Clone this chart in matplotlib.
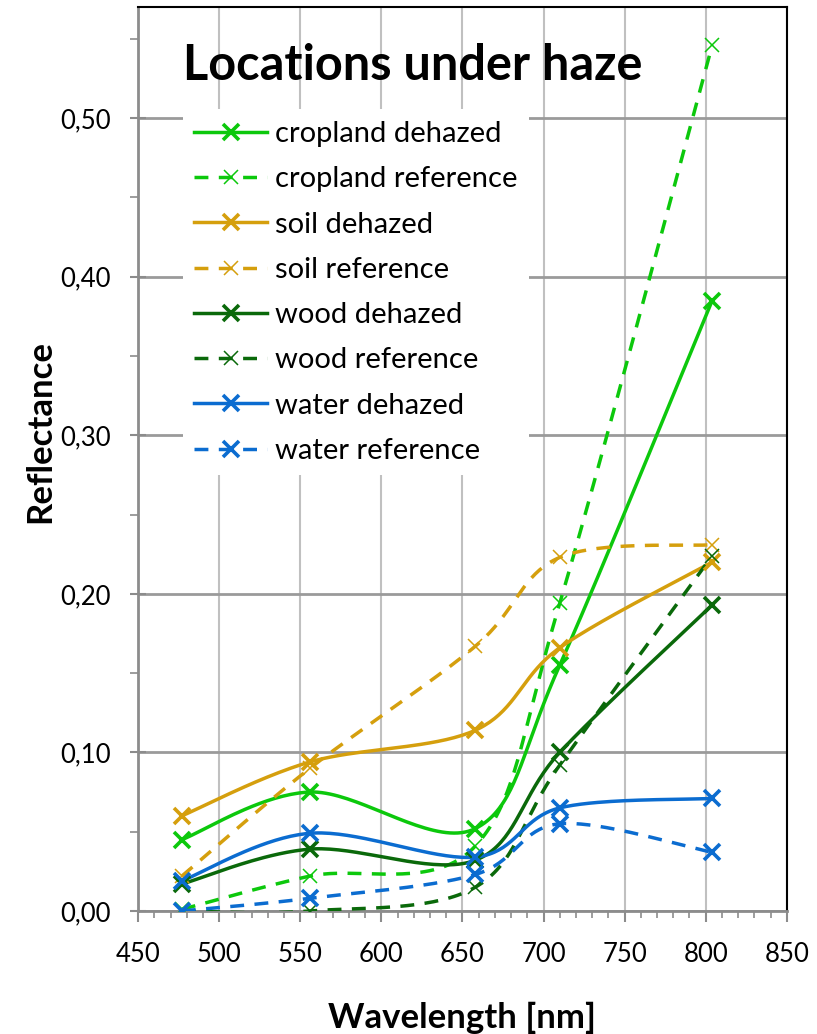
import numpy as np
import matplotlib
matplotlib.use('Agg')
import matplotlib.pyplot as plt
from matplotlib.lines import Line2D
from matplotlib.ticker import MultipleLocator, FuncFormatter

plt.rcParams['font.family'] = ['Lato', 'DejaVu Sans']

# band centres (nm)
wavelength = [477, 556, 658, 710, 804]

# reflectance values
cropland_dehazed = [0.045, 0.075, 0.052, 0.155, 0.385]
cropland_reference = [0.001, 0.022, 0.041, 0.194, 0.546]
soil_dehazed = [0.060, 0.094, 0.114, 0.166, 0.220]
soil_reference = [0.022, 0.090, 0.167, 0.223, 0.231]
wood_dehazed = [0.017, 0.039, 0.032, 0.100, 0.193]
wood_reference = [0.000, 0.000, 0.015, 0.092, 0.224]
water_dehazed = [0.019, 0.049, 0.034, 0.065, 0.071]
water_reference = [0.000, 0.008, 0.023, 0.055, 0.037]

labels = ['cropland dehazed', 'cropland reference', 'soil dehazed', 'soil reference',
          'wood dehazed', 'wood reference', 'water dehazed', 'water reference']
series = [cropland_dehazed, cropland_reference, soil_dehazed, soil_reference,
          wood_dehazed, wood_reference, water_dehazed, water_reference]

green = '#0CC80C'
gold = '#D59F0D'
dkgreen = '#0A690A'
blue = '#0B6CD0'
colors = [green, green, gold, gold, dkgreen, dkgreen, blue, blue]
dashed = [False, True, False, True, False, True, False, True]
thick_marker = [True, False, True, False, True, False, True, True]


# excel style smoothed line (bezier through the points)
def smooth(x, y, n=40):
    pts = np.column_stack([x, y]).astype(float)
    P = np.vstack([pts[0], pts, pts[-1]])
    out = []
    t = np.linspace(0, 1, n)[:, None]
    for i in range(1, len(P) - 2):
        p0, p1, p2, p3 = P[i - 1], P[i], P[i + 1], P[i + 2]
        c1 = p1 + (p2 - p0) / 6
        c2 = p2 - (p3 - p1) / 6
        seg = (1 - t)**3 * p1 + 3 * (1 - t)**2 * t * c1 + 3 * (1 - t) * t**2 * c2 + t**3 * p2
        out.append(seg)
    out = np.vstack(out)
    return out[:, 0], out[:, 1]


fig = plt.figure(figsize=(8.17, 10.34), dpi=100)
ax = fig.add_axes([0.169, 0.119, 0.794, 0.874])

handles = []
for vals, lab, c, d, tm in zip(series, labels, colors, dashed, thick_marker):
    ls = (0, (4, 3)) if d else '-'
    ms = 11 if tm else 10
    mew = 2.6 if tm else 1.1
    sx, sy = smooth(wavelength, vals)
    ax.plot(sx, sy, color=c, lw=2.5, linestyle=ls, zorder=3)
    ax.plot(wavelength, vals, linestyle='none', marker='x', ms=ms, mew=mew, color=c, zorder=4)
    handles.append(Line2D([], [], color=c, lw=2.5, linestyle=ls, marker='x', ms=ms, mew=mew))

ax.set_xlim(450, 850)
ax.set_ylim(0, 0.57)
ax.xaxis.set_major_locator(MultipleLocator(50))
ax.xaxis.set_minor_locator(MultipleLocator(10))
ax.yaxis.set_major_locator(MultipleLocator(0.1))
ax.yaxis.set_minor_locator(MultipleLocator(0.05))
ax.yaxis.set_major_formatter(FuncFormatter(lambda v, p: f'{v:.2f}'.replace('.', ',')))

ax.grid(True, which='major', axis='x', color='#c0c0c0', lw=1.5, zorder=0)
ax.grid(True, which='major', axis='y', color='#9a9a9a', lw=2, zorder=0)
ax.set_axisbelow(True)

ax.tick_params(axis='x', which='major', direction='out', length=8, width=1.5,
               color='#8c8c8c', labelsize=18.5, pad=14)
ax.tick_params(axis='x', which='minor', direction='out', length=5, width=1.2, color='#8c8c8c')
ax.tick_params(axis='y', which='major', direction='inout', length=11, width=1.5,
               color='#8c8c8c', labelsize=18.5, pad=14)
ax.tick_params(axis='y', which='minor', direction='out', length=6, width=1.2, color='#8c8c8c')

for s in ['left', 'bottom']:
    ax.spines[s].set_color('#8c8c8c')
    ax.spines[s].set_linewidth(2)
for s in ['top', 'right']:
    ax.spines[s].set_color('black')
    ax.spines[s].set_linewidth(1.5)

ax.set_xlabel('Wavelength [nm]', fontsize=25, fontweight='bold')
ax.set_ylabel('Reflectance', fontsize=25, fontweight='bold')
ax.xaxis.set_label_coords(0.5, -0.1)
ax.yaxis.set_label_coords(-0.126, 0.53)

ax.text(0.07, 0.919, 'Locations under haze', transform=ax.transAxes,
        fontsize=35, fontweight='bold', ha='left', va='baseline', zorder=5)

leg = ax.legend(handles, labels, loc='upper left', bbox_to_anchor=(0.069, 0.887),
                borderaxespad=0, fontsize=21, handlelength=2.5, handletextpad=0.25,
                labelspacing=0.66, borderpad=0.4, frameon=True, fancybox=False)
leg.get_frame().set_facecolor('white')
leg.get_frame().set_edgecolor('none')
leg.get_frame().set_alpha(1)
leg.set_zorder(6)

fig.savefig('out.png', dpi=100)
